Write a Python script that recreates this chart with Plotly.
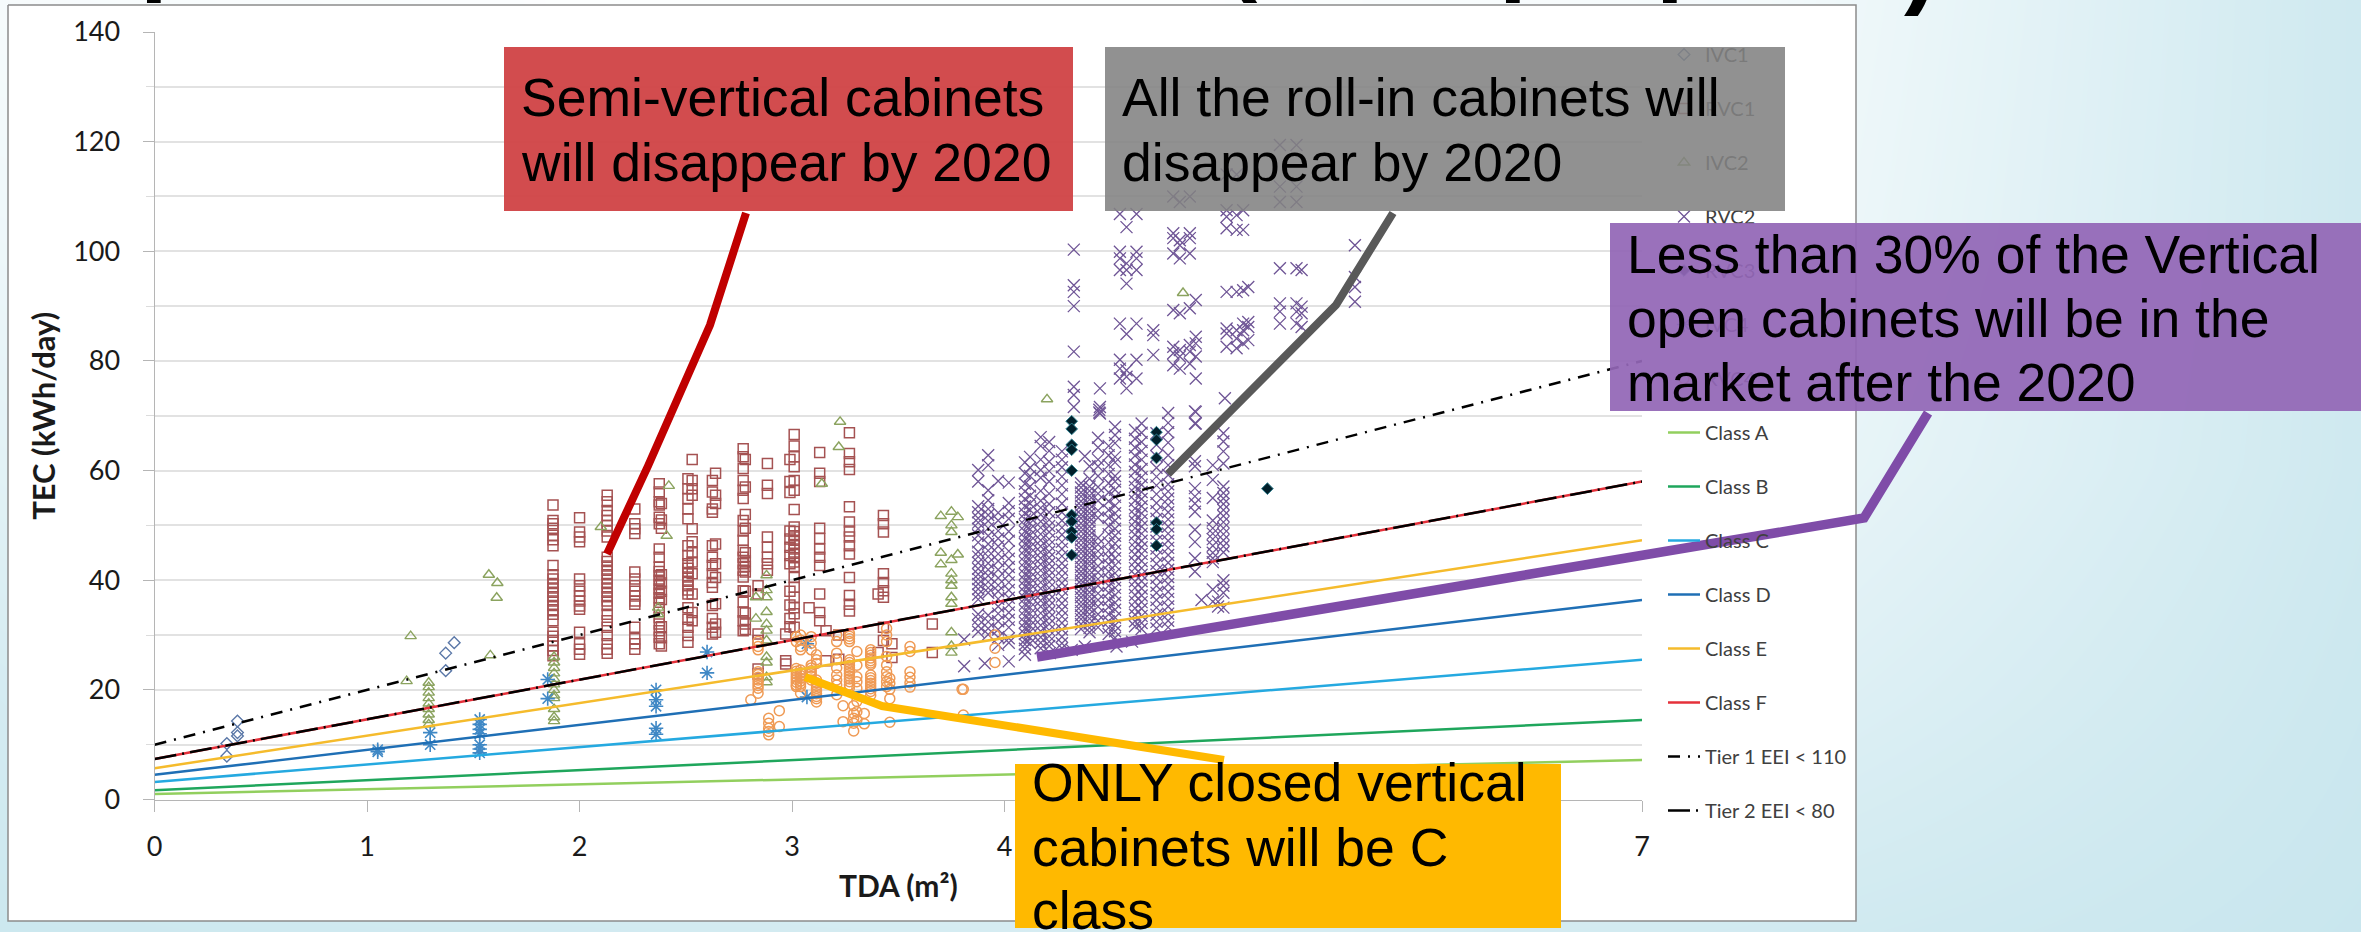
import plotly.graph_objects as go

W, H = 2361, 932
PX0, PX7, PY0, PY140 = 154.6, 1642.0, 799.5, 32.0

# ---------- data ----------
IVC1_X = [0.39, 0.39, 0.39, 0.34, 0.34, 1.37, 1.41, 1.37]
IVC1_Y = [14.3, 12.2, 11.6, 10.2, 7.9, 26.7, 28.6, 23.5]

RVC1_COL_X = [1.875, 2.0, 2.13, 2.26, 2.375, 2.385, 2.51, 2.53, 2.625, 2.64, 2.77, 2.78, 2.84, 2.884,
              3.01, 2.99, 2.97, 3.08, 3.13, 3.16, 3.22, 3.27, 3.43, 3.405, 3.47, 3.66]
RVC1_COL_Y = [
    [53.7, 50.9, 50.3, 49.5, 48.2, 47.4, 46.3, 42.7, 41, 40.2, 39.4, 38.6, 37.8, 37, 36.2, 35.4, 34.6, 33.8, 32.6, 30.5, 29.8, 29, 28, 27.2, 26.2],
    [51.4, 48.8, 47.9, 47, 40.2, 39, 38, 37.1, 36.2, 35.3, 34.7, 30.5, 28.4, 27.4, 26.5],
    [55.5, 54.3, 52.7, 51.8, 50.9, 50, 49, 47.9, 44.2, 43.4, 42.6, 41.8, 41, 40.2, 39.4, 38.6, 37.8, 37, 36.2, 35.4, 33.8, 32.6, 31.4, 29.9, 28.4, 27.4, 26.7],
    [53, 50.3, 49.4, 48.5, 41.5, 40.2, 39, 38, 37.1, 36.2, 35.6, 31.4, 29.3, 28.4, 27.4],
    [57.6, 56.1, 54.3, 53.7, 51.5, 50.3, 45.7, 44.2, 42.4, 41.6, 40.8, 40, 39.2, 38.4, 37.6, 36.8, 36, 35, 33.2, 32, 30.8, 29.6, 28.4],
    [54, 51, 49.5, 41, 39.5, 38, 36.5, 31.5, 29.5, 28],
    [58.5, 56.7, 54.9, 53, 51.2, 46.3, 44.5, 43, 42.2, 41.4, 40.6, 39.8, 39, 38.2, 37.5, 35, 32.9, 31.4, 29.9, 28.7],
    [62, 58.2, 56.7, 55.5, 49.4, 47, 45, 43.3, 41.2, 37.5, 34.1, 32.6],
    [58.2, 56.1, 53, 52.4, 46.3, 44.2, 42.7, 41.2, 39.6, 38.7, 35.4, 33, 31.4, 30.2],
    [59.5, 55.5, 54, 46.6, 43, 40.5, 35.7, 32, 30.5],
    [64, 62.5, 60.4, 58.2, 56.4, 54.9, 50.9, 49, 47.3, 45.4, 44.2, 43, 41.8, 40.6, 38.1, 36, 34.2, 32.6, 30.8],
    [62, 57, 52, 49.5, 45, 43.5, 42.5, 41.5, 38, 34, 32, 31],
    [39, 37.5, 30.2, 29, 23.8, 22.9],
    [61.3, 57.3, 55.8, 47.9, 46, 44.2, 43, 41.8],
    [66.6, 64.5, 62.5, 60.7, 58.2, 56.4, 52.9, 49.7, 48.9, 48.1, 47.3, 46.5, 45.7, 44.9, 44.1, 43.3, 42.5, 40.5, 38.7, 36.9, 35, 33.9, 31.4],
    [62, 58, 56, 49, 47.5, 46, 44.5, 43, 38, 35.5, 33, 31.5],
    [30.2, 25.3, 24.7],
    [35],
    [63.3, 59.5, 58, 49.5, 47.6, 45.7, 44.2, 42.7, 37.5, 34.1, 32.6],
    [30.8, 25.3],
    [30, 25.6],
    [66.9, 63.1, 61.6, 60.2, 53.4, 50.6, 49, 47.9, 46.3, 44.8, 40.5, 37.2, 35.6, 34.4],
    [51.8, 50.3, 48.8, 41.2, 39.6, 38.1, 36.9, 31.4, 29],
    [37.5, 26.8],
    [28.4, 25.9],
    [32, 26.8],
]

IVC2_X = [1.205, 1.186] + [1.29] * 9 + [1.573, 1.613, 1.61, 1.58] + [1.88] * 12 + [2.1, 2.37, 2.37, 2.42, 2.41,
          3.226, 3.22, 3.14, 2.83, 2.83] + [2.88] * 11 + [3.70, 3.75, 3.78, 3.75, 3.75, 3.70, 3.78, 3.75, 3.70,
          3.75, 3.75, 3.75, 3.75, 3.75, 3.75, 3.75, 3.75, 4.2, 4.84]
IVC2_Y = [29.8, 21.6, 21.3, 20.5, 19.5, 18.5, 17.5, 16.5, 15.5, 14.5, 13.7, 41, 39.5, 36.8, 26.3,
          26, 25, 24, 23, 22, 21, 20, 19, 18.5, 16.5, 15, 14.3, 49.7, 35, 33.8, 57.2, 48.1,
          68.9, 64.3, 57.6, 36.9, 33, 40.9, 38.2, 36.9, 34.2, 32, 30.8, 29, 25, 22.3, 21.4, 26,
          51.7, 52.5, 51.5, 50, 48.8, 45, 44.7, 43.7, 42.9, 41.2, 40, 39, 36.9, 35.7, 30.5, 28, 26.8, 73, 92.4]

RVC2_COL_X = [3.876, 3.923, 3.97, 4.02, 4.096, 4.12, 4.17, 4.21, 4.27, 4.36, 4.40, 4.44, 4.49, 4.52,
              4.614, 4.645, 4.715, 4.77, 4.896, 4.98, 5.03,
              4.326, 4.449, 4.543, 4.574, 4.621, 4.70, 4.794, 4.825, 4.872, 4.9, 5.045, 5.092, 5.123,
              5.147, 5.296, 5.374, 5.398, 5.649, 5.037,
              3.81, 3.907, 4.213, 4.316, 4.6, 4.527, 4.446, 4.378, 4.927, 5.005]
RVC2_COL_Y = [
    [60.1, 58, 53.5, 52.4, 51.3, 50.5, 49.4, 48.2, 46.9, 45.2, 44.3, 43.2, 42.1, 41.1, 40.2, 39.3, 38.4, 37.4, 36.5, 33.8, 32.9, 31.7, 30.6],
    [62.8, 61, 56.4, 54.6, 53, 51.9, 50.8, 49.5, 48.1, 46.6, 45.4, 44.3, 43.1, 41.9, 40.8, 39.7, 38.6, 37.7, 33.6, 32.4, 31.2, 30.1],
    [58.1, 52.3, 50.9, 49, 47.6, 46.2, 44.8, 43.5, 41.9, 40.4, 39.1, 38, 36.6, 35.2, 33.9, 32.5, 31, 29.6, 28.2],
    [57.8, 54.1, 52.6, 51.2, 48.9, 47.2, 45.3, 43.9, 42.4, 41, 39.6, 38.2, 36.8, 35.5, 34.1, 32.8, 31.4, 29.4, 28.6, 25.2],
    [61.5, 59.5, 57.6, 56.2, 54.8, 53.5, 52.2, 51.1, 50, 48.9, 47.7, 46.6, 45.5, 44.4, 43.3, 42.2, 41.1, 40, 38.9, 37.8, 36.7, 35.6, 34.5, 33.4, 32.3, 31.2, 30.2, 29.1, 28.3, 27.5, 26.4],
    [62.5, 60.5, 59, 57.1, 55.4, 54, 52.8, 51.5, 50.4, 49.3, 48.2, 47.1, 46, 44.9, 43.8, 42.7, 41.6, 40.5, 39.4, 38.3, 37.2, 36.1, 35, 33.9, 32.8, 31.7, 30.6, 29.5, 28.5],
    [66.1, 64.5, 62, 60.1, 58.7, 56.3, 54.5, 53.2, 52, 50.7, 49.6, 48.4, 47.3, 46.2, 45.1, 44, 42.9, 41.8, 40.7, 39.6, 38.5, 37.4, 36.3, 35.2, 34, 32.9, 31.8, 30.7, 29.6, 28.6, 27.6],
    [65.2, 63.6, 61.6, 59.9, 58, 55.8, 53.9, 52.4, 51, 49.9, 48.8, 47.5, 46.4, 45.2, 44.1, 43, 41.9, 40.8, 39.7, 38.6, 37.5, 36.4, 35.3, 34.2, 33.1, 32, 30.9, 29.8, 28.8, 28],
    [63.5, 62, 60.6, 58.9, 57.3, 55.7, 54, 52.4, 50.9, 49.6, 48.3, 47, 45.7, 44.4, 43.1, 41.9, 40.7, 39.5, 38.3, 37, 35.8, 34.6, 33.4, 32.2, 31, 29.7, 28.5, 27.6],
    [57.7, 56.9, 56, 55.3, 54.4, 53.6, 52.9, 52, 51.3, 50.4, 49.6, 48.9, 48, 47.3, 46.4, 45.6, 44.9, 44, 43.3, 42.4, 41.6, 40.9, 40, 39.3, 38.4, 37.6, 36.9, 36, 35.3, 34.4, 33.6, 32.9, 32, 31.1],
    [60.8, 58.5, 57.1, 56.3, 55.4, 54.7, 53.8, 53, 52.2, 51.4, 50.7, 49.8, 49, 48.2, 47.4, 46.7, 45.8, 45, 44.2, 43.4, 42.7, 41.8, 41, 40.2, 39.4, 38.7, 37.8, 37, 36.2, 35.4, 34.7, 33.8, 33, 32.1, 31.3, 30.5],
    [66, 64.2, 62, 60.8, 59, 57, 55.8, 54.5, 52.7, 51.4, 47.7, 46.5, 45.3, 44.1, 42.6, 41.4, 40.2, 39, 37.6, 36.4, 35.2, 33.8, 32.6, 31.4],
    [64.5, 62.8, 61, 59.4, 57.7, 56, 54.4, 52.8, 51.4, 49.9, 48.4, 46.9, 45.4, 44.2, 42.9, 41.6, 40.3, 39, 37.7, 36.4, 35.1, 33.8, 32.5, 31.3, 30.2],
    [68, 66.5, 65, 62.5, 61.5, 59, 58, 56.5, 55.2, 53.6, 52.2, 50.9, 49.4, 48.1, 46.7, 45.4, 44, 42.7, 41.3, 40, 38.6, 37.3, 35.9, 34.6, 33.2, 31.8, 30.7, 29.5],
    [67.4, 65.8, 64.2, 62.7, 61.1, 59.8, 58.3, 57, 55.8, 54.5, 53.1, 51.9, 50.7, 49.5, 48.3, 47, 45.9, 44.7, 43.4, 42.2, 41, 39.8, 38.6, 37.3, 36.1, 34.9, 33.7, 32.5, 31.6],
    [68.6, 66.9, 65.2, 63.6, 62, 60.3, 58.8, 57.4, 56.1, 54.8, 53.5, 52.2, 51, 49.8, 48.5, 47.2, 46, 44.8, 43.5, 42.2, 41, 39.8, 38.5, 37.2, 36, 34.8, 33.5, 32.2, 31.1],
    [66.8, 64.7, 62.6, 60.5, 58.9, 57.3, 55.7, 54.1, 52.6, 51.2, 49.8, 48.5, 47.2, 45.8, 44.4, 43, 41.7, 40.4, 39, 37.7, 36.4, 35, 33.7, 32.4, 31.2],
    [70.5, 68.7, 67, 65.1, 62.8, 61, 59.2, 57.5, 56.2, 54.9, 53.7, 52.4, 51.1, 49.8, 48.5, 47.2, 45.9, 44.6, 43.2, 41.9, 40.6, 39.3, 37.9, 36.6, 35.2, 33.9, 32.6, 31.4],
    [70.8, 68.6, 61.7, 60.8, 56.8, 55.3, 54, 52.5, 49.2, 47, 44, 41.6],
    [61, 58.3, 55, 50.9, 49.5, 48.5, 47.5, 46.3, 45, 44, 43.3, 38.3, 36.1],
    [66.8, 65.3, 63.5, 61.3, 57.1, 55.9, 54.9, 53.9, 52.8, 51.7, 50.6, 49.5, 48.4, 47.3, 46.2, 45.1, 40, 39, 37.7, 35],
    [100.3, 93.8, 92.6, 90, 81.7, 75.3, 73.8, 71.6],
    [75, 71.6, 70.4],
    [106.8, 99.9, 98.7, 96.6, 86.8, 80.2, 78.6, 76.8],
    [104.4, 97.8, 96.6, 94.1, 84.9, 78.3, 77.1, 75],
    [106.8, 99.9, 98.7, 96.6, 86.8, 80.2, 76.8],
    [85.6, 84.7, 81.1],
    [110, 103.3, 102.4, 99.6, 89.3, 82.6, 81.4, 79.2],
    [109, 102, 101.1, 98.7, 88.7, 82, 80.8, 78.6],
    [110, 103.3, 102.4, 99.6, 89.6, 82.9, 81.7, 79.5],
    [91.1, 84.4, 83.2, 80.8, 76.8, 70.7, 68.6],
    [114, 107.5, 106.3, 104.2, 92.6, 85.9, 85, 82.6],
    [114, 106.6, 103.9, 92.6, 85.6, 84.1, 82.3],
    [107.5, 103.9, 92.9, 86.8, 85.6, 83.2],
    [93.5, 87.1, 86.2, 83.8],
    [119.4, 111.8, 109, 96.9, 90.5, 89, 86.8],
    [119.4, 111.8, 109, 96.9, 90.5, 89, 86.8],
    [96.6, 89.9, 88.7, 86.2],
    [101.1, 95.3, 93.5, 90.8],
    [73.2],
    [29.2, 24.3],
    [24.8],
    [26.7],
    [27.3],
    [28.8],
    [27.9],
    [71.1, 70.6],
    [62.6, 27.9],
    [36.4],
    [36.1, 35.2],
]

RVC3_X = [4.316] * 10 + [4.715] * 6 + [5.237]
RVC3_Y = [69, 67.6, 64.7, 63.8, 60, 51.9, 50.7, 48.9, 47.8, 44.6, 67, 65.6, 62.3, 50.5, 49.3, 46.3, 56.7]

IVC4_X = [1.05, 1.05, 1.297, 1.297, 1.53, 1.53, 1.53, 1.53, 1.53, 1.53, 1.53, 1.85, 1.85,
          2.36, 2.36, 2.36, 2.36, 2.36, 2.6, 2.6, 3.07, 3.07]
IVC4_Y = [8.7, 9.1, 12.2, 10, 14.6, 13.7, 12.8, 12, 10, 9.2, 8.5, 21.9, 18.4,
          20, 18.2, 17, 13, 11.9, 26.9, 23.1, 28.4, 18.7]

RVC4_COL_X = [2.84, 2.806, 2.89, 2.94, 3.02, 3.04, 3.09, 3.115, 3.21, 3.27, 3.305, 3.24, 3.29, 3.34,
              3.37, 3.445, 3.46, 3.555, 3.806, 3.955, 3.8]
RVC4_COL_Y = [
    [28.8, 27.9, 27.3, 23.3, 22.8, 22.3, 21.8, 21.3, 20.8, 20.3, 19.4],
    [18.2],
    [14.8, 13.9, 13, 12.4, 11.8],
    [16.2, 13.3],
    [29.7, 28.8, 23.9, 23.4, 22.9, 22.4, 21.9, 21.4, 20.9, 20.6],
    [30, 29.1, 27.9, 27.3, 23.6, 23.1, 22.6, 22.1, 21.6, 21.1, 20.6, 19.4],
    [29.7, 28.5, 27.3, 24.5, 24, 23.5, 23, 22.5, 21.8],
    [26.4, 25.5, 24.8, 21.8, 21.3, 20.8, 20.3, 19.8, 19.3, 18.8, 18.4, 17.8],
    [30, 28.8, 26.7, 25.5, 24, 22.7, 21.8, 20.9, 19.1],
    [30.3, 29.8, 29.3, 28.8, 25.5, 25, 24.5, 24, 23.5, 23, 22.5, 22, 21.5, 20.9, 20.4],
    [27, 24.5, 22.4, 21.5, 20.3, 17.9, 16, 14.5],
    [17.1, 14.2],
    [17.1, 15.7, 14.8, 13.9, 12.5],
    [15.7, 13.8],
    [27.3, 26.8, 26.3, 25.8, 25.3, 24.9, 24.6, 22.7, 22.2, 21.7, 21.2, 20.7, 20.2, 19.7, 19],
    [31.2, 30, 28.8, 26.1, 24.5, 23.3, 22.4, 21.5, 20.6],
    [22.1, 21.2, 20.1, 18.4, 14.1],
    [27.9, 27, 23.3, 22.3, 21.3, 20.5],
    [20.1, 15.4],
    [30, 27.6, 25],
    [20.1],
]

LINE_X = [0, 7]
CLASS_A = [1.0, 7.2]
CLASS_B = [1.7, 14.5]
CLASS_C = [3.2, 25.5]
CLASS_D = [4.5, 36.4]
CLASS_E = [5.7, 47.3]
CLASS_F = [7.4, 58.0]
TIER_1 = [10.0, 80.0]
TIER_2 = [7.4, 58.0]

Y_TICKS = [0, 20, 40, 60, 80, 100, 120, 140]
X_TICKS = [0, 1, 2, 3, 4, 5, 6, 7]

BG_X = [0, 590, 1180, 1770, 2361]
BG_Y = [0, 233, 466, 699, 932]
BG_Z = [[.15, .05, .05, .20, .85],
        [.30, .05, .05, .25, .85],
        [.50, .10, .10, .35, .85],
        [.75, .30, .30, .55, .90],
        [.90, .80, .70, .80, .95]]


def flat(col_x, col_y):
    xs, ys = [], []
    for x, col in zip(col_x, col_y):
        xs += [x] * len(col)
        ys += col
    return xs, ys


fig = go.Figure()

# page background, on page-wide axes in pixels
fig.add_trace(go.Heatmap(x=BG_X, y=BG_Y, z=BG_Z, zsmooth="best", zmin=0, zmax=1, showscale=False,
                         colorscale=[[0, "#ffffff"], [1, "#c6e5ed"]], hoverinfo="skip",
                         xaxis="x", yaxis="y"))
fig.add_trace(go.Scatter(x=[8, 1856, 1856, 8, 8], y=[5, 5, 921, 921, 5], mode="lines", fill="toself",
                         fillcolor="#ffffff", line=dict(color="#8c8c8c", width=1.5), showlegend=False,
                         hoverinfo="skip", xaxis="x", yaxis="y"))


def markers(name, x, y, symbol, color, size=10, width=1.4, fill=None):
    fig.add_trace(go.Scatter(x=x, y=y, name=name, mode="markers", legendgroup=name, xaxis="x2", yaxis="y2",
                             marker=dict(symbol=symbol, size=size, color=fill or color,
                                         line=dict(color=color, width=width))))


def line(name, y, color, dash="solid", width=2.5):
    fig.add_trace(go.Scatter(x=LINE_X, y=y, name=name, mode="lines", legendgroup=name, xaxis="x2", yaxis="y2",
                             line=dict(color=color, width=width, dash=dash)))


markers("IVC1", IVC1_X, IVC1_Y, "diamond-open", "#5b78a8", size=9)
markers("RVC1", *flat(RVC1_COL_X, RVC1_COL_Y), "square-open", "#a55252", size=10, width=1.5)
markers("IVC2", IVC2_X, IVC2_Y, "triangle-up-open", "#8ba35f", size=10)
markers("RVC2", *flat(RVC2_COL_X, RVC2_COL_Y), "x-thin-open", "#6f5596", size=12, width=1.3)
markers("RVC3", RVC3_X, RVC3_Y, "diamond", "#2f7f8f", size=9, width=1, fill="#02202b")
markers("IVC4", IVC4_X, IVC4_Y, "asterisk-open", "#3f88c5", size=12, width=1.6)
markers("RVC4", *flat(RVC4_COL_X, RVC4_COL_Y), "circle-open", "#ef9a54", size=10, width=1.5)
line("Class A", CLASS_A, "#92cf5e")
line("Class B", CLASS_B, "#1fa65c")
line("Class C", CLASS_C, "#25a9e0")
line("Class D", CLASS_D, "#1f6fb5")
line("Class E", CLASS_E, "#f5bb2c")
line("Class F", CLASS_F, "#e5303a")
line("Tier 1 EEI < 110", TIER_1, "#000000", dash="12px,8px,2px,8px")
line("Tier 2 EEI < 80", TIER_2, "#000000", dash="22px,6px,2px,6px")

GRID = "#e2e2e2"
TICK = "#b5b5b5"
fig.update_layout(
    width=W, height=H, margin=dict(l=0, r=0, t=0, b=0, autoexpand=False),
    paper_bgcolor="#ffffff", plot_bgcolor="rgba(0,0,0,0)",
    font=dict(family="Lato", color="#1a1a1a"),
    xaxis=dict(domain=[0, 1], range=[0, W], visible=False, fixedrange=True),
    yaxis=dict(domain=[0, 1], range=[H, 0], visible=False, fixedrange=True),
    xaxis2=dict(domain=[PX0 / W, PX7 / W], range=[0, 7], anchor="y2", tickvals=X_TICKS, showgrid=False,
                zeroline=False, showline=True, linecolor=TICK, linewidth=1, ticks="outside", ticklen=11,
                tickcolor=TICK, tickfont=dict(size=27), ticklabelstandoff=12,
                title=dict(text="<b>TDA (m²)</b>", font=dict(size=30), standoff=15)),
    yaxis2=dict(domain=[1 - PY0 / H, 1 - PY140 / H], range=[0, 140], anchor="x2", tickvals=Y_TICKS,
                showgrid=True, gridcolor=GRID, gridwidth=2, zeroline=False, showline=True, linecolor=TICK,
                linewidth=1, ticks="outside", ticklen=11, tickcolor=TICK, tickfont=dict(size=27),
                ticklabelstandoff=17,
                minor=dict(tickvals=[10, 30, 50, 70, 90, 110, 130], showgrid=True, gridcolor=GRID, gridwidth=2,
                           ticks="outside", ticklen=8, tickcolor="#dcdcdc"),
                title=dict(text="<b>TEC (kWh/day)</b>", font=dict(size=31), standoff=8)),
    legend=dict(x=1663 / W, xanchor="left", y=1 - 35 / H, yanchor="top", traceorder="grouped", tracegroupgap=25,
                font=dict(size=20, color="#404040"), bgcolor="rgba(0,0,0,0)", itemwidth=32, borderwidth=0),
)

# leaders from the callouts, in page pixels
LEADERS = [
    ("#c00000", 8, [(746, 213), (710, 325), (648, 466), (607, 554)]),
    ("#595959", 8, [(1393, 213), (1336, 305), (1168, 474)]),
    ("#7f4ca8", 9.5, [(1928, 413), (1864, 518), (1037, 657)]),
    ("#ffb900", 8, [(805, 677), (882, 706), (1224, 760)]),
]
for color, w, pts in LEADERS:
    path = "M" + " L".join(f"{x},{y}" for x, y in pts)
    fig.add_shape(type="path", path=path, xref="x", yref="y", layer="above", line=dict(color=color, width=w))

# fragments of the slide title cut off at the top edge
for glyph, gx, shift in [("p", 138, -5), ("(", 1222, -5), ("p", 1497, -5), ("p", 1654, -5), (")", 1902, -18)]:
    fig.add_annotation(text=f"<b>{glyph}</b>", x=gx, y=0, xref="x", yref="y", xanchor="left", yanchor="bottom",
                       yshift=shift, showarrow=False, font=dict(family="Liberation Sans", size=100, color="#000000"))

# callouts drawn over the chart and its legend: box, then one text per line
CALLOUTS = [
    (["Semi-vertical cabinets", "will disappear by 2020"], [97, 162], 504, 47, 1073, 211, "rgba(208,66,68,0.95)"),
    (["All the roll-in cabinets will", "disappear by 2020"], [97, 162], 1105, 47, 1785, 211, "rgba(130,130,130,0.88)"),
    (["Less than 30% of the Vertical", "open cabinets will be in the", "market after the 2020"], [254, 318, 382],
     1610, 223, 2361, 411, "rgba(146,102,182,0.93)"),
    (["ONLY closed vertical", "cabinets will be C", "class"], [782, 847, 910], 1015, 764, 1561, 928, "#ffb900"),
]
for lines, centers, x0, y0, x1, y1, bg in CALLOUTS:
    fig.add_annotation(text="&nbsp;", x=x0, y=y0, xref="x", yref="y", xanchor="left", yanchor="top",
                       showarrow=False, bgcolor=bg, borderpad=0, borderwidth=0, width=x1 - x0, height=y1 - y0,
                       font=dict(size=10))
    for text, cy in zip(lines, centers):
        fig.add_annotation(text=text, x=x0 + 15, y=cy, xref="x", yref="y", xanchor="left", yanchor="middle",
                           align="left", showarrow=False,
                           font=dict(family="Liberation Sans", size=53.5, color="#000000"))

fig.write_html("out.html", config=dict(displayModeBar=False),
               post_script="document.body.style.margin='0';document.body.style.overflow='hidden';")
